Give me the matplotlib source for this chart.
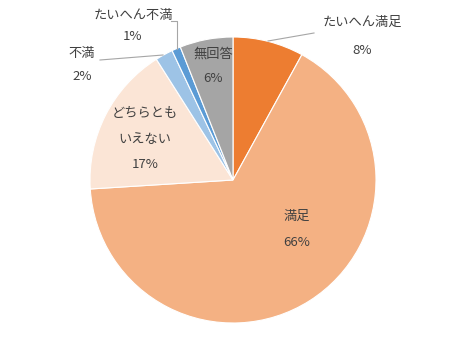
import matplotlib.pyplot as plt

plt.rcParams['font.family'] = ['Noto Sans CJK JP', 'DejaVu Sans']

# answers, clockwise from 12 o'clock
labels = ['たいへん満足', '満足', 'どちらとも\nいえない', '不満', 'たいへん不満', '無回答']
values = [8, 66, 17, 2, 1, 6]
colors = ['#ED7D31', '#F4B183', '#FBE5D6', '#9DC3E6', '#5B9BD5', '#A5A5A5']

W, H = 466, 359
fig = plt.figure(figsize=(W / 100, H / 100), dpi=100)
ax = fig.add_axes([0, 0, 1, 1])
ax.set_xlim(0, W)
ax.set_ylim(0, H)
ax.set_aspect('equal')
ax.axis('off')

cx, cy, r = 233, H - 180, 143
ax.pie(values, colors=colors, startangle=90, counterclock=False,
       center=(cx, cy), radius=r, frame=True,
       wedgeprops=dict(edgecolor='white', linewidth=0.8))
ax.set_xlim(0, W)
ax.set_ylim(0, H)
ax.axis('off')

txt = dict(ha='center', va='center', fontsize=9.5, color='#404040')

# label positions in pixels (from top)
lab_pos = [(362, 22), (297, 216), (145, 113), (82, 53), (133, 15), (213, 54)]
pct_pos = [(362, 50), (297, 243), (145, 165), (82, 76), (133, 37), (213, 79)]

for lab, v, (lx, ly), (px, py) in zip(labels, values, lab_pos, pct_pos):
    if '\n' in lab:
        first, second = lab.split('\n')
        ax.text(lx, H - ly, first, **txt)
        ax.text(lx, H - 140, second, **txt)
    else:
        ax.text(lx, H - ly, lab, **txt)
    ax.text(px, H - py, f'{v}%', **txt)

# leader lines
line = dict(color='#A6A6A6', linewidth=0.8)
ax.plot([268, 314], [H - 41, H - 33], **line)
ax.plot([171, 177, 177], [H - 21, H - 21, H - 49], **line)
ax.plot([100, 163], [H - 60, H - 55], **line)

fig.savefig('out.png', dpi=100)
